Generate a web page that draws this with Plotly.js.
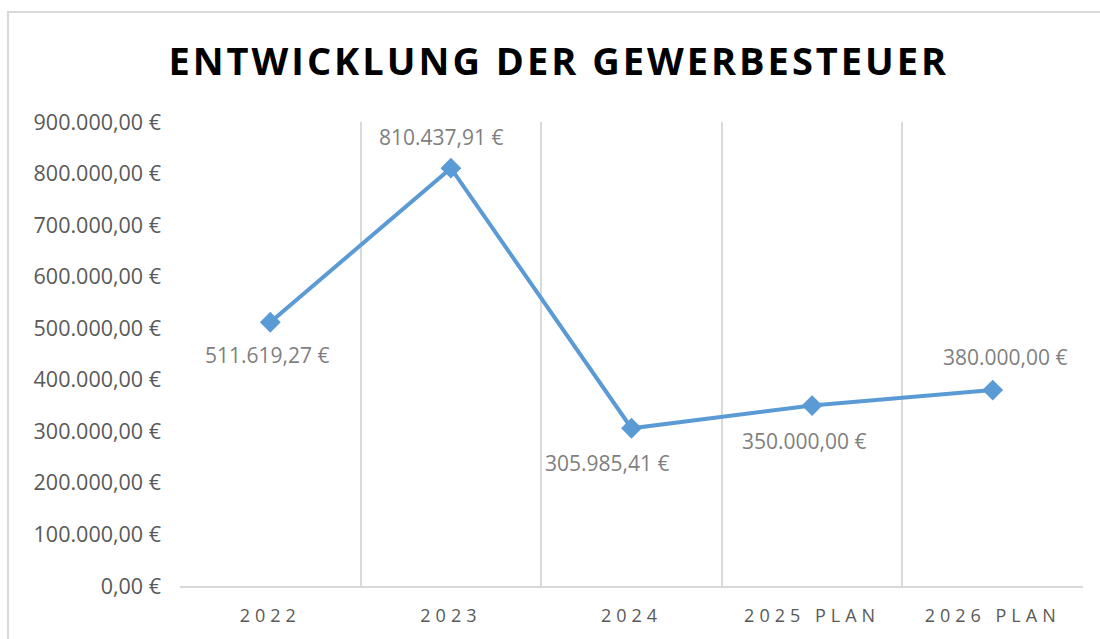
<!DOCTYPE html>
<html>
<head>
<meta charset="utf-8">
<script src="https://cdn.plot.ly/plotly-3.0.1.min.js"></script>
<style>
  html, body { margin: 0; padding: 0; background: #fff; }
  #wrap { position: relative; width: 1100px; height: 639px; }
  #chart { width: 1100px; height: 639px; }
  #frame { position: absolute; left: 7px; top: 11px; width: 1120px; height: 660px;
           border: 2px solid #d9d9d9; box-sizing: border-box; pointer-events: none; }
  .gtitle { letter-spacing: 3px; }
  .xtick text { letter-spacing: 5px; }
</style>
</head>
<body>
<div id="wrap">
  <div id="chart"></div>
  <div id="frame"></div>
</div>
<script>
const categories = ['2022', '2023', '2024', '2025 PLAN', '2026 PLAN'];
const values = [511619.27, 810437.91, 305985.41, 350000.00, 380000.00];
const labels = ['511.619,27 €', '810.437,91 €', '305.985,41 €', '350.000,00 €', '380.000,00 €'];
const yTickValues = [0, 100000, 200000, 300000, 400000, 500000, 600000, 700000, 800000, 900000];
const yTickLabels = ['0,00 €', '100.000,00 €', '200.000,00 €', '300.000,00 €', '400.000,00 €',
  '500.000,00 €', '600.000,00 €', '700.000,00 €', '800.000,00 €', '900.000,00 €'];

// label placement (style only)
const labelShiftY = [-33, 31, -35, -35, 33];
const labelShiftX = [-3, -10, -25, -8, 12];

const trace = {
  x: categories,
  y: values,
  type: 'scatter',
  mode: 'lines+markers',
  line: { color: '#5B9BD5', width: 4 },
  marker: { symbol: 'diamond', size: 16, color: '#5B9BD5' },
  hoverinfo: 'skip'
};

const annotations = categories.map((c, i) => ({
  x: i, y: values[i], xref: 'x', yref: 'y',
  text: labels[i], showarrow: false,
  xshift: labelShiftX[i], yshift: labelShiftY[i],
  font: { family: 'Open Sans, sans-serif', size: 21, color: '#7f7f7f' }
}));

const layout = {
  width: 1100, height: 639,
  margin: { l: 180, r: 17, t: 122, b: 53 },
  paper_bgcolor: '#ffffff', plot_bgcolor: '#ffffff',
  showlegend: false,
  title: {
    text: '<b>ENTWICKLUNG DER GEWERBESTEUER</b>',
    x: 0.508, xanchor: 'center', y: 0.903, yanchor: 'middle',
    font: { family: 'Open Sans, sans-serif', size: 38, color: '#000000' }
  },
  xaxis: {
    type: 'category',
    range: [-0.5, 4.5],
    tickson: 'boundaries',
    showgrid: true, gridcolor: '#d9d9d9', gridwidth: 2,
    showline: true, linecolor: '#d9d9d9', linewidth: 2,
    ticks: '', zeroline: false,
    tickfont: { family: 'Open Sans, sans-serif', size: 18, color: '#595959' },
    ticklabelstandoff: 12
  },
  yaxis: {
    range: [0, 900000],
    tickvals: yTickValues, ticktext: yTickLabels,
    showgrid: false, zeroline: false, showline: false, ticks: '',
    ticklabelstandoff: 18,
    tickfont: { family: 'Open Sans, sans-serif', size: 21.5, color: '#595959' }
  },
  annotations: annotations
};

Plotly.newPlot('chart', [trace], layout, { displayModeBar: false, staticPlot: true });
</script>
</body>
</html>
